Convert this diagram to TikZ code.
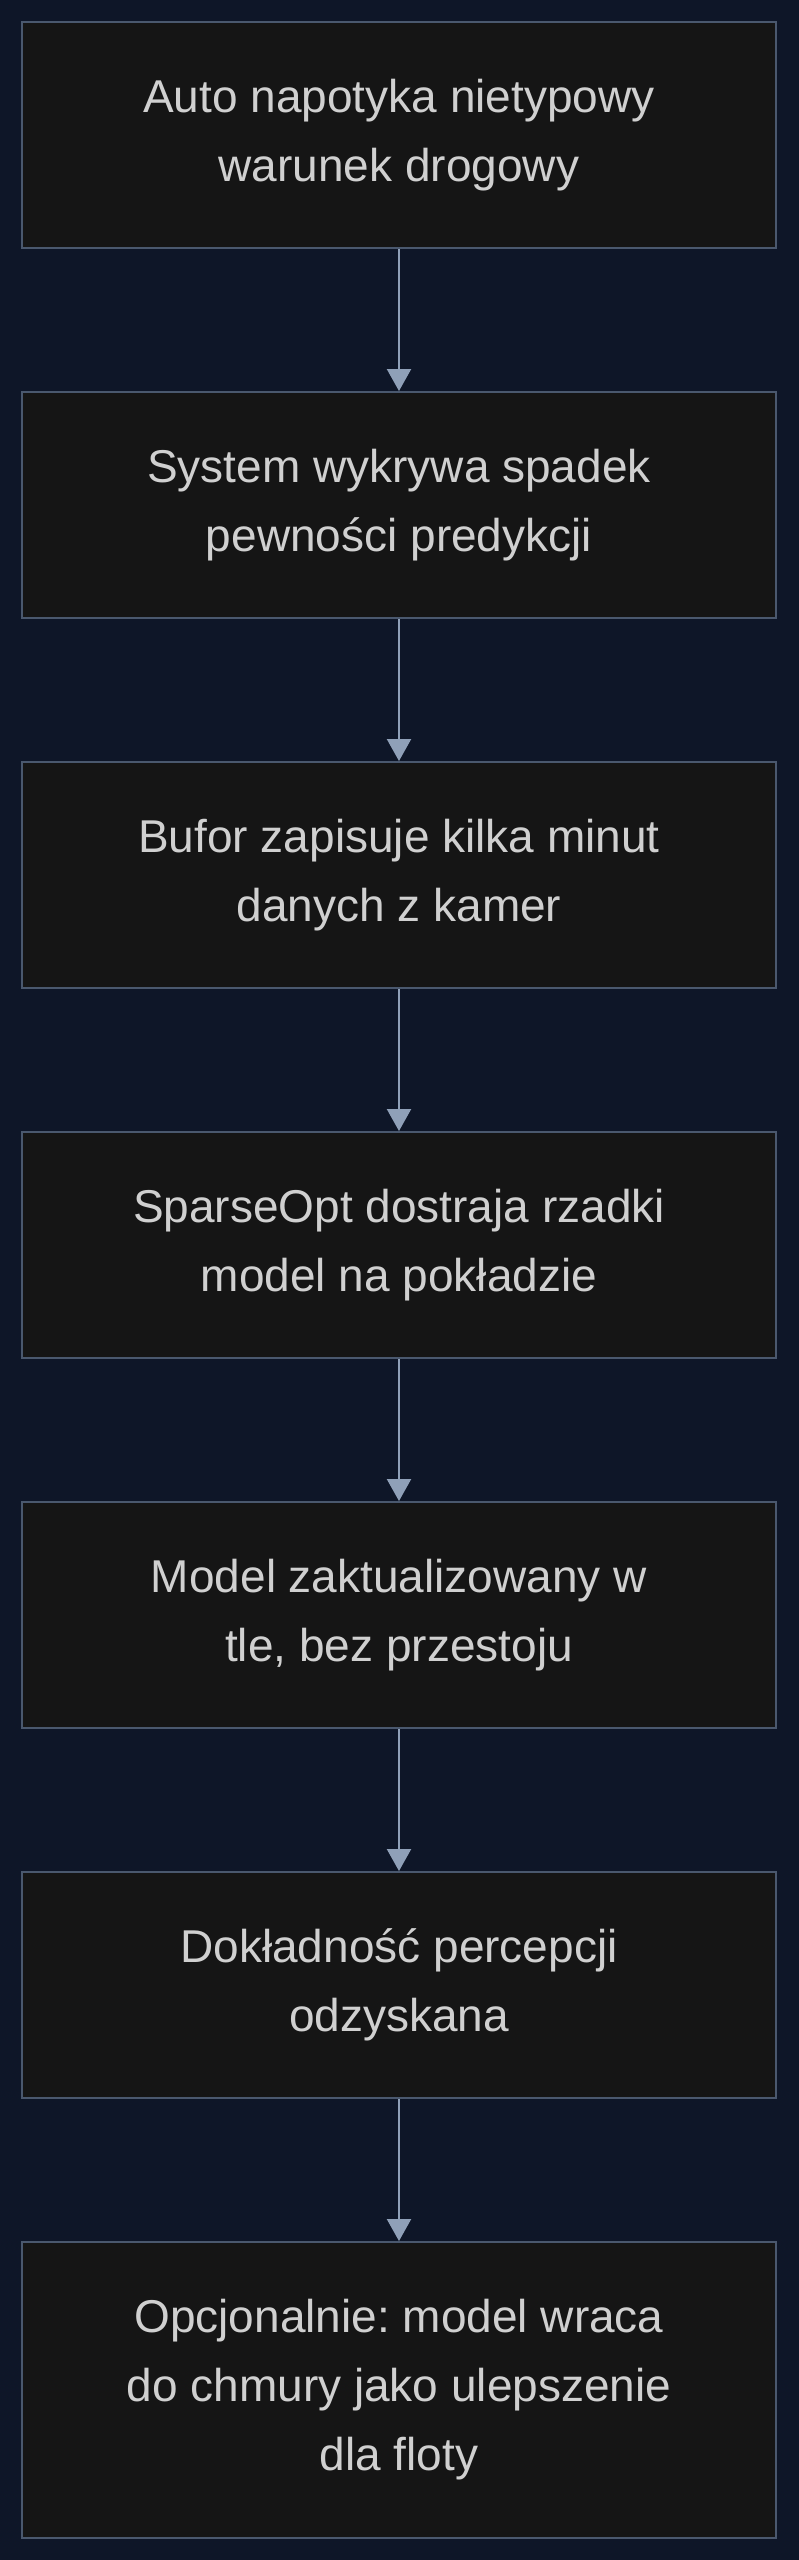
\documentclass[tikz,border=0pt]{standalone}
\usepackage{fontspec}
\setmainfont{Liberation Sans}
\usetikzlibrary{arrows.meta}
\definecolor{bgnavy}{RGB}{14,22,40}
\definecolor{boxfill}{RGB}{21,21,21}
\definecolor{boxline}{RGB}{74,88,110}
\definecolor{arrowcol}{RGB}{143,160,184}
\definecolor{textcol}{RGB}{208,208,208}
\frenchspacing
\begin{document}
\begin{tikzpicture}[x=1pt, y=-1pt,
    stepbox/.style={rectangle, draw=boxline, fill=boxfill, line width=2pt,
      minimum width=754pt, minimum height=226pt, inner sep=0pt,
      text=textcol, align=center, font=\fontsize{46}{69}\selectfont},
    flow/.style={draw=arrowcol, line width=2.2pt,
      -{Triangle[width=24pt,length=22pt]}}]
    \useasboundingbox (0,0) rectangle (798,2560);
    \fill[bgnavy] (-6,-6) rectangle (804,2566);
    \node[stepbox] (anomaly) at (399,135) {Auto napotyka nietypowy\\warunek drogowy};
    \node[stepbox] (detect) at (399,505) {System wykrywa spadek\\pewności predykcji};
    \node[stepbox] (buffer) at (399,875) {Bufor zapisuje kilka minut\\danych z kamer};
    \node[stepbox] (tune) at (399,1245) {SparseOpt dostraja rzadki\\model na pokładzie};
    \node[stepbox] (update) at (399,1615) {Model zaktualizowany w\\tle, bez przestoju};
    \node[stepbox] (recover) at (399,1985) {Dokładność percepcji\\odzyskana};
    \node[stepbox, minimum height=296pt] (cloud) at (399,2390) {Opcjonalnie: model wraca\\do chmury jako ulepszenie\\dla floty};
    \draw[flow] (anomaly) -- (detect);
    \draw[flow] (detect) -- (buffer);
    \draw[flow] (buffer) -- (tune);
    \draw[flow] (tune) -- (update);
    \draw[flow] (update) -- (recover);
    \draw[flow] (recover) -- (cloud);
  \end{tikzpicture}
\end{document}
